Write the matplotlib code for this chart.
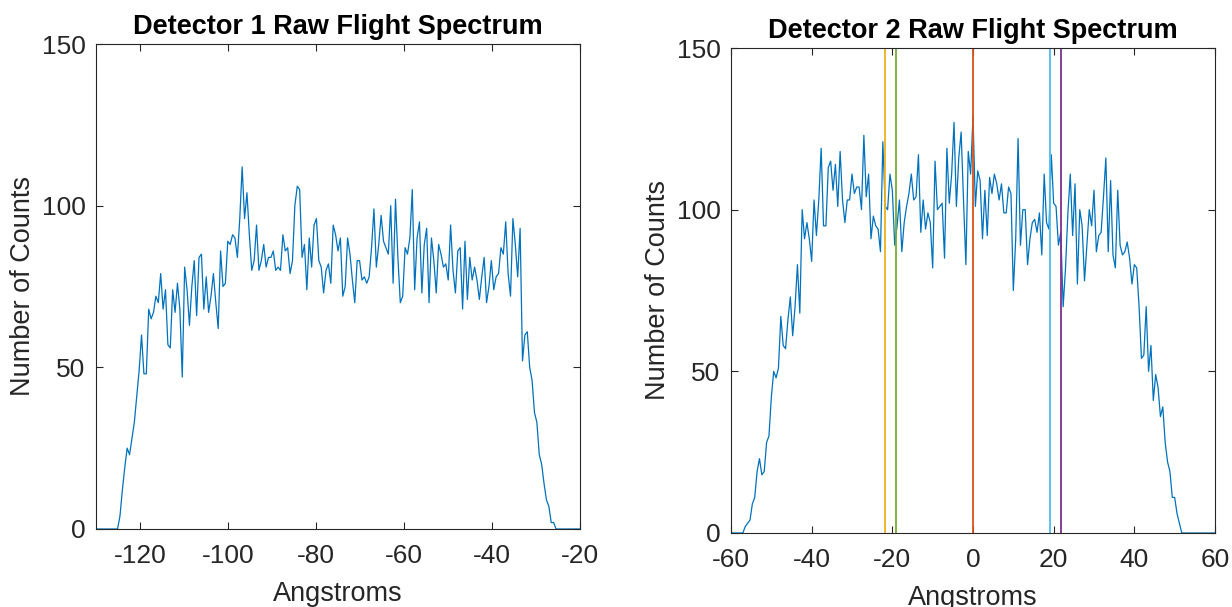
import numpy as np
import matplotlib
matplotlib.use("Agg")
from matplotlib import pyplot as plt

plt.rcParams['font.family'] = ['Liberation Sans', 'DejaVu Sans']
plt.rcParams['axes.unicode_minus'] = False

# detector 1, bins from -130 to -20 A
counts1 = (
    [0] * 9
    + [0, 4, 12, 19, 25, 23, 28, 33, 41, 49, 60, 48, 48, 68, 65, 67, 72, 70, 79, 68,
       74, 57, 56, 74, 67, 76, 68, 47, 81, 74, 63, 75, 83, 66, 84, 85, 68, 78, 67, 72,
       79, 70, 62, 86, 75, 76, 89, 88, 91, 90, 84, 96, 112, 96, 104, 91, 80, 83, 94, 80,
       83, 88, 81, 84, 84, 86, 80, 81, 80, 91, 86, 87, 79, 83, 100, 106, 105, 84, 88, 74,
       90, 81, 94, 96, 83, 81, 73, 80, 82, 76, 94, 91, 86]
    + [90, 72, 75, 90, 85, 77, 70, 83, 83, 77, 78, 76, 78, 87, 99, 81, 88, 97, 89, 87,
       85, 100, 76, 102, 84, 70, 72, 87, 85, 90, 105, 74, 90, 95, 73, 88, 93, 70, 90, 83,
       73, 88, 85, 81, 82, 77, 94, 80, 73, 86, 87, 68, 89, 71, 84, 77, 81, 77, 71, 78,
       84, 70, 75, 83, 74, 78, 79, 87, 85, 95, 79, 72, 96, 88, 78, 93, 52, 60, 61, 50,
       46, 36, 33, 23, 20, 14, 9, 7, 2, 2, 0]
    + [0] * 10
)
x1_range = (-130, -20)

# detector 2, bins from -60 to 60 A
counts2 = (
    [0] * 5
    + [0, 2, 3, 4, 9, 11, 19, 23, 18, 19, 28, 30, 42, 50, 48, 51, 67, 58, 57, 66,
       73, 61, 70, 83, 68, 100, 91, 96, 91, 84, 103, 92, 103, 119, 95, 95, 113, 115, 106, 114,
       101, 118, 103, 96, 103, 103, 111, 105, 107, 107, 100, 123, 104, 111, 91, 98, 95, 94, 87, 121,
       101, 100, 111, 106, 89, 95, 103, 87, 96, 101, 105, 111, 103, 104, 117, 93, 103, 94, 99, 96,
       82, 115, 100, 101, 102, 85]
    + [119, 102, 111, 127, 101, 116, 124, 103, 83, 118, 111, 129, 101, 112, 109, 91, 106, 92, 110, 105,
       111, 108, 103, 108, 99, 99, 107, 105, 75, 91, 122, 89, 100, 100, 83, 91, 96, 97, 93, 99,
       86, 111, 96, 94, 117, 102, 101, 89, 93, 70, 82, 99, 111, 92, 108, 77, 100, 95, 78, 89,
       100, 95, 106, 87, 92, 93, 104, 116, 87, 109, 86, 82, 106, 89, 86, 87, 90, 85, 77, 83,
       82, 70, 54, 55, 70, 50, 58, 41, 49, 45, 36, 39, 28, 22, 19, 11, 11, 6, 3, 0]
    + [0] * 14
)
x2_range = (-60, 60)

# marker lines on detector 2 (MATLAB colour order after the data line)
marker_pos = [0, -21.7, 21.7, -19.1, 19.1]
marker_colors = ['#D95319', '#EDB120', '#7E2F8E', '#77AC30', '#4DBEEE']

titles = ['Detector 1 Raw Flight Spectrum', 'Detector 2 Raw Flight Spectrum']
xticks1 = [-120, -100, -80, -60, -40, -20]
xticks2 = [-60, -40, -20, 0, 20, 40, 60]
yticks = [0, 50, 100, 150]

line_col = '#0072BD'
axis_col = '#262626'

fig = plt.figure(figsize=(12.32, 6.07), dpi=100)
ax1 = fig.add_axes([96 / 1232, 78 / 607, 484 / 1232, 485 / 607])
ax2 = fig.add_axes([731 / 1232, 74 / 607, 484 / 1232, 485 / 607])

x1 = np.linspace(*x1_range, len(counts1))
x2 = np.linspace(*x2_range, len(counts2))

ax1.plot(x1, counts1, color=line_col, lw=0.9)
ax2.plot(x2, counts2, color=line_col, lw=0.9)
for pos, col in zip(marker_pos, marker_colors):
    ax2.axvline(pos, color=col, lw=1.3)

for ax, title, xt, xr in [(ax1, titles[0], xticks1, x1_range), (ax2, titles[1], xticks2, x2_range)]:
    ax.set_xlim(*xr)
    ax.set_ylim(0, 150)
    ax.set_xticks(xt)
    ax.set_yticks(yticks)
    ax.set_title(title, fontsize=19.5, fontweight='bold', pad=7)
    ax.set_xlabel('Angstroms', fontsize=19.5, color=axis_col, labelpad=9)
    ax.set_ylabel('Number of Counts', fontsize=19.5, color=axis_col, labelpad=4)
    ax.tick_params(direction='in', length=5, width=0.8, colors=axis_col,
                   labelsize=19, top=True, right=True)
    ax.tick_params(axis='x', pad=11)
    ax.tick_params(axis='y', pad=7.5)
    for sp in ax.spines.values():
        sp.set_color(axis_col)
        sp.set_linewidth(0.8)

fig.savefig('out.png', dpi=100)
